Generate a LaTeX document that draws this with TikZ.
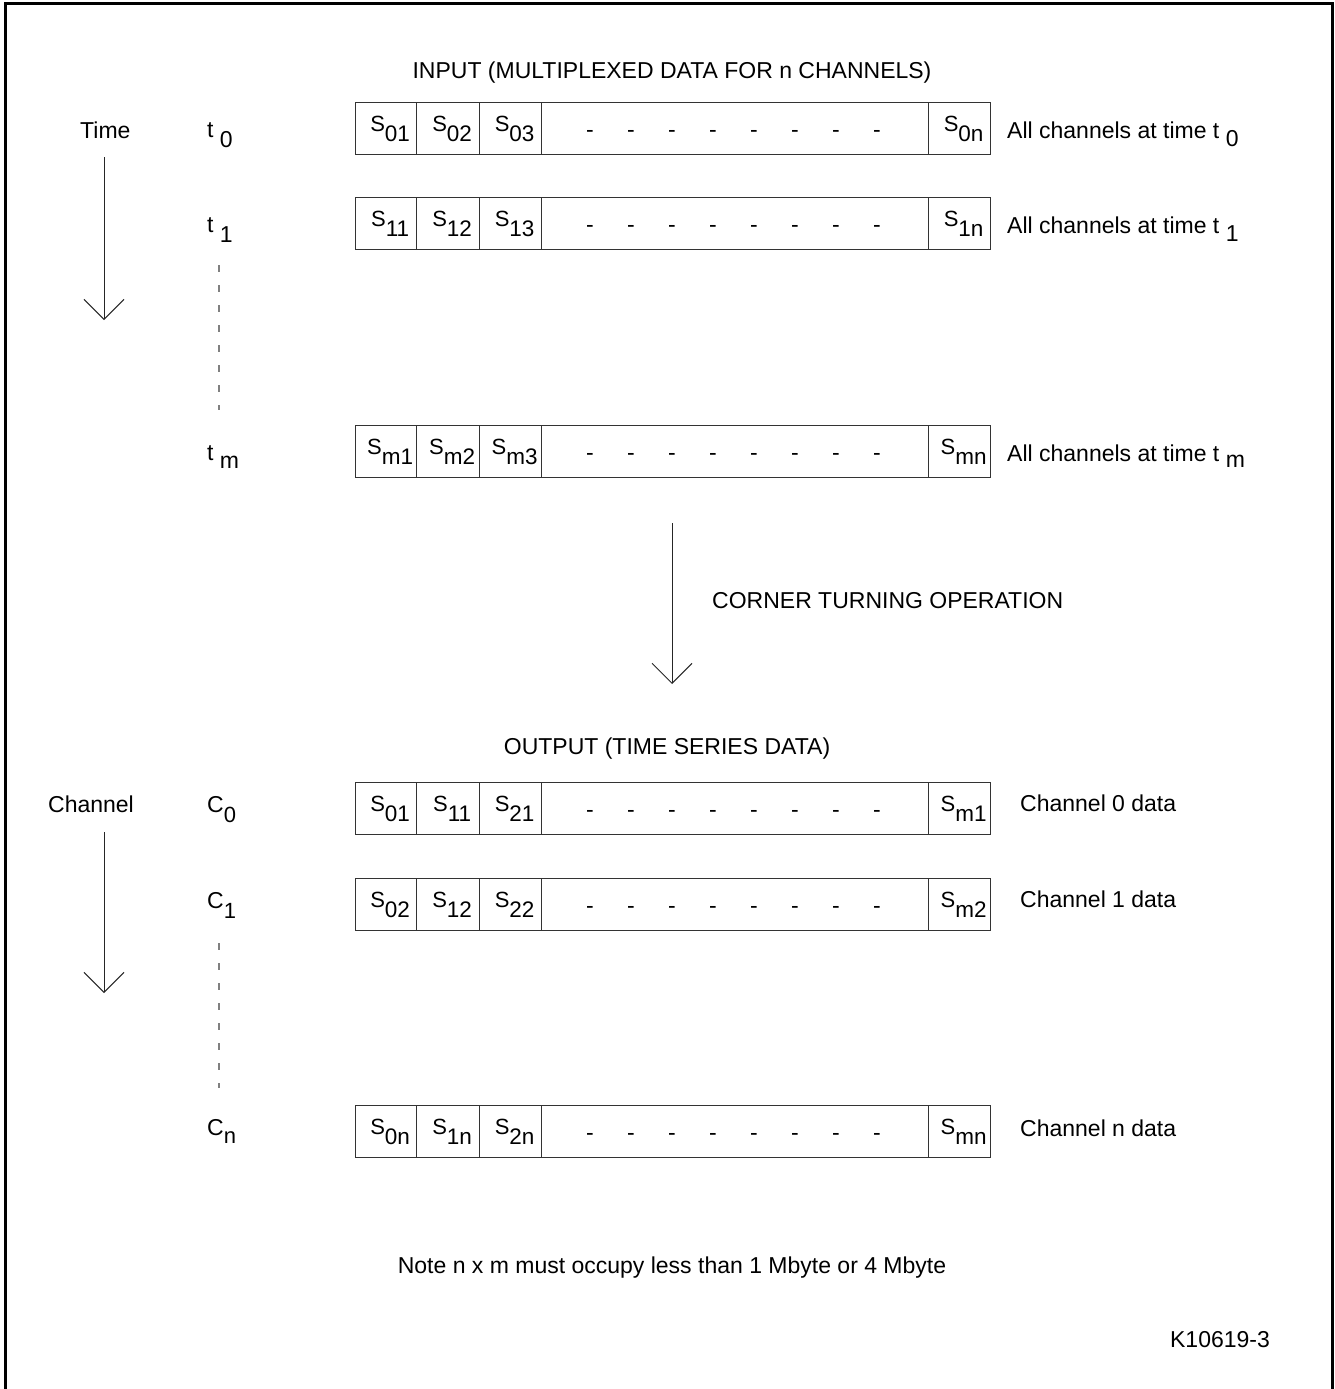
\documentclass[tikz,border=0pt]{standalone}
\usepackage{fontspec}
\setmainfont{Liberation Sans}
\usetikzlibrary{arrows.meta}
\newcommand\subl[3]{\raisebox{-#1pt}{\fontsize{#2}{#2}\selectfont #3}}
\newcommand\Scell[1]{\hspace{8pt}{\fontsize{22}{22}\selectfont S}\subl{10}{22.5}{#1}}
\newcommand\datarow[7]{%
  \node[cellbox, minimum width=61pt] (#1a) at (355,#2) {\Scell{#3}};
  \node[cellbox, minimum width=63pt] (#1b) at (416,#2) {\Scell{#4}};
  \node[cellbox, minimum width=62pt] (#1c) at (479,#2) {\Scell{#5}};
  \node[cellbox, minimum width=387pt] (#1d) at (541,#2) {};
  \node[cellbox, minimum width=62pt] (#1e) at (928,#2) {\Scell{#6}};
  \foreach \k in {0,...,7} \node[ctr] (#1dash\k) at ({590+41*\k}, #2+35) {-};
}
\begin{document}
\begin{tikzpicture}[x=1pt,y=-1pt,
  every node/.style={font=\fontsize{23}{27}\selectfont, inner sep=0pt, text=black},
  lbl/.style={anchor=base west},
  ctr/.style={anchor=base},
  cellbox/.style={draw=black!80, line width=1.3pt, minimum height=52pt, anchor=north west, inner sep=0pt},
  arr/.style={draw=black!85, line width=1pt, -{Straight Barb[length=20pt, width=40pt]}},
  dotline/.style={draw=black!50, line width=1.2pt, dash pattern=on 7pt off 13pt},
  ]
\useasboundingbox (0,0) rectangle (1335,1389);
\draw[line width=3pt] (5,1400) -- (5,4) -- (1332,4) -- (1332,1400);

% ---------- input ----------
\node[ctr] (intitle) at (672,78) {INPUT (MULTIPLEXED DATA FOR n CHANNELS)};
\node[lbl] (time) at (80,138) {Time};
\coordinate (ta) at (104,157);
\coordinate (tb) at (104,320);
\draw[arr] (ta) -- (tb);

\datarow{r0}{102}{01}{02}{03}{0n}{0}
\datarow{r1}{197}{11}{12}{13}{1n}{0}
\datarow{rm}{425}{m1}{m2}{m3}{mn}{0}

\node[lbl] (t0) at (207,137) {t\ \subl{10}{23}{0}};
\node[lbl] (t1) at (207,232) {t\ \subl{10}{23}{1}};
\node[lbl] (tm) at (207,460) {t\ \subl{8}{23}{m}};
\coordinate (td1) at (219,265);
\coordinate (td2) at (219,410);
\draw[dotline] (td1) -- (td2);

\node[lbl] (a0) at (1007,138) {All channels at time t\ \subl{8}{23}{0}};
\node[lbl] (a1) at (1007,233) {All channels at time t\ \subl{8}{23}{1}};
\node[lbl] (am) at (1007,461) {All channels at time t\ \subl{6}{23}{m}};

% ---------- corner turning ----------
\coordinate (ca) at (672,523);
\coordinate (cb) at (672,684);
\draw[arr] (ca) -- (cb);
\node[lbl] (corner) at (712,608) {CORNER TURNING OPERATION};

% ---------- output ----------
\node[ctr] (outtitle) at (667,754) {OUTPUT (TIME SERIES DATA)};
\node[lbl] (chan) at (48,812) {Channel};
\coordinate (ka) at (104,832);
\coordinate (kb) at (104,993);
\draw[arr] (ka) -- (kb);

\datarow{c0}{782}{01}{11}{21}{m1}{0}
\datarow{c1}{878}{02}{12}{22}{m2}{0}
\datarow{cn}{1105}{0n}{1n}{2n}{mn}{0}

\node[lbl] (C0) at (207,812) {C\subl{10}{22}{0}};
\node[lbl] (C1) at (207,908) {C\subl{10}{22}{1}};
\node[lbl] (Cn) at (207,1135) {C\subl{8}{22}{n}};
\coordinate (cd1) at (219,943);
\coordinate (cd2) at (219,1088);
\draw[dotline] (cd1) -- (cd2);

\node[lbl] (d0) at (1020,811) {Channel 0 data};
\node[lbl] (d1) at (1020,907) {Channel 1 data};
\node[lbl] (dn) at (1020,1136) {Channel n data};

\node[ctr] (note) at (672,1273) {Note n x m must occupy less than 1 Mbyte or 4 Mbyte};
\node[ctr] (ref) at (1220,1347) {K10619-3};
\end{tikzpicture}
\end{document}
